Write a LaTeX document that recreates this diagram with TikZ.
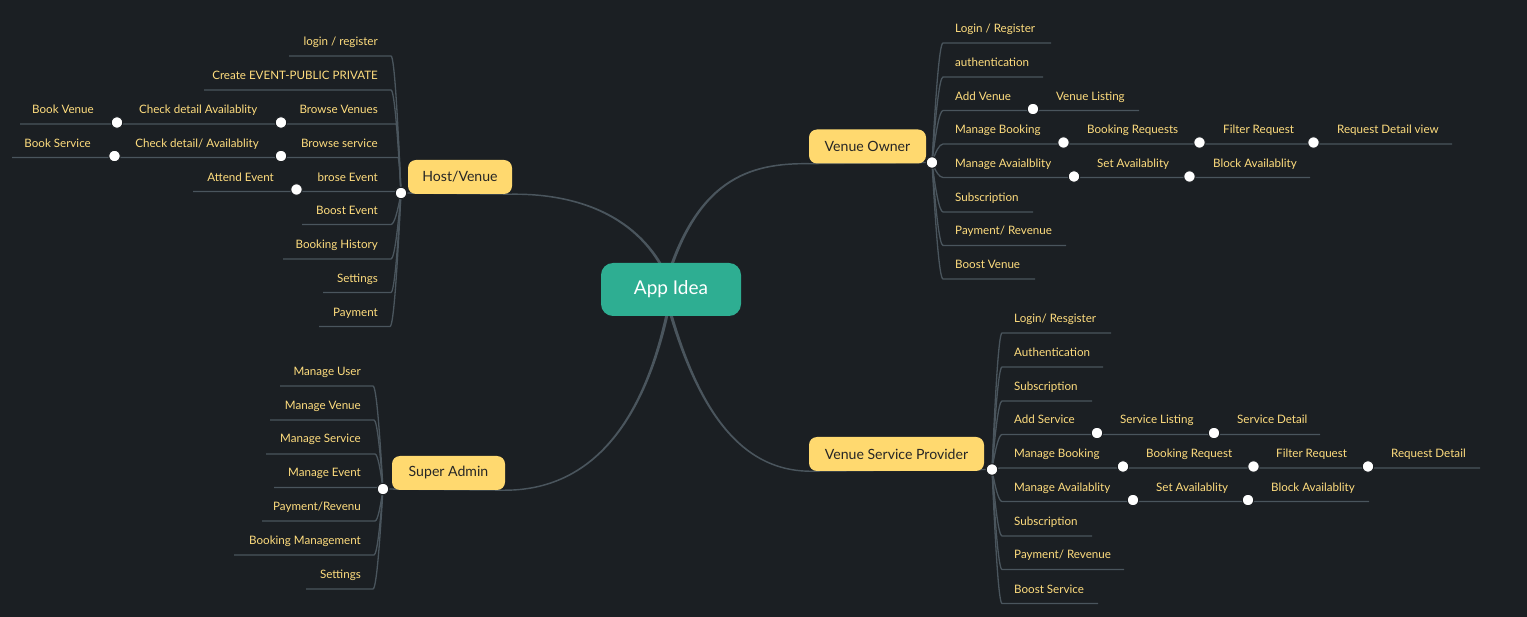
\documentclass[tikz,border=0pt]{standalone}
\usepackage{fontspec}
\setmainfont{Lato}
\usetikzlibrary{backgrounds,calc}
\definecolor{bgc}{HTML}{1B1F23}
\definecolor{edge}{HTML}{4A555D}
\definecolor{leaf}{HTML}{FFDD7E}
\definecolor{yel}{HTML}{FFD96F}
\definecolor{teal1}{HTML}{2EAE92}
\tikzset{
  lbl/.style={text=leaf,inner sep=0pt,yshift=-1.5pt,font=\fontsize{11.6}{13}\selectfont,text height=1.55ex,text depth=.45ex},
  lw/.style={lbl,anchor=west},
  le/.style={lbl,anchor=east},
  knob/.style={circle,fill=white,draw=bgc,line width=1pt,minimum size=11.5pt,inner sep=0pt},
  hubdot/.style={knob},
  topic/.style={fill=yel,rounded corners=8pt,text=black!85,inner sep=0pt,font=\fontsize{14.1}{16}\selectfont},
  rootbox/.style={fill=teal1,rounded corners=12pt,text=white,inner sep=0pt,minimum width=140pt,minimum height=53pt,font=\fontsize{19}{21}\selectfont},
  branchline/.style={draw=edge,line width=1.3pt},
  mainline/.style={draw=edge,line width=1.3pt},
  mainfill/.style={fill=edge},
}
% hub, name, elbow x, y, end x
\newcommand\brn[5]{%
  \coordinate (#2-e) at (#3,#4);
  \coordinate (#2-x) at (#5,#4);
  \begin{scope}[on background layer]
  \draw[branchline] let \p1=(#1),\p2=(#2-e) in
    (#1) .. controls ({\x1+0.3*(\x2-\x1)},{\y1+0.5*(\y2-\y1)}) and ({\x2+0.35*(\x1-\x2)},\y2) .. (#2-e) -- (#2-x);
  \end{scope}}
% tapered main curve: from, c1, c2, to, sx, sy
\newcommand\mcurve[6]{%
  \fill[mainfill] ($(#1)+(0,{#6*.7})$)
    .. controls ($(#2)+(0,{#6*.8})$) and ($(#3)+({#5*1.0},{#6*1.0})$) .. ($(#4)+({#5*1.7},0)$)
    -- ($(#4)+({-#5*1.7},0)$)
    .. controls ($(#3)+({-#5*1.0},{-#6*1.0})$) and ($(#2)+(0,{-#6*.8})$) .. ($(#1)+(0,{-#6*.7})$) -- cycle;}
\begin{document}
\begin{tikzpicture}[x=1pt,y=-1pt]
\useasboundingbox (0,0) rectangle (1527,617);
\begin{scope}[on background layer]
\fill[bgc] (0,0) rectangle (1527,617);
\end{scope}
% boxes
\node[rootbox] (root) at (671,289.5) {\raisebox{-1.5pt}{App Idea}};
\node[topic,minimum width=104pt,minimum height=34pt] (hv) at (460,177) {\raisebox{-.5pt}{Host/Venue}};
\node[topic,minimum width=117pt,minimum height=34pt] (vo) at (867.5,146.5) {\raisebox{-.5pt}{Venue Owner}};
\node[topic,minimum width=113pt,minimum height=34pt] (sa) at (448.5,473) {\raisebox{-.5pt}{Super Admin}};
\node[topic,minimum width=175pt,minimum height=34pt] (vsp) at (896.5,454) {\raisebox{-.5pt}{Venue Service Provider}};
% hubs
\node[hubdot] (hhv) at (401,193) {};
\node[hubdot] (hvo) at (932,162.5) {};
\node[hubdot] (hsa) at (383,489) {};
\node[hubdot] (hvsp) at (992,469.5) {};
% endpoints under the root box
\coordinate (rA) at ($(root.center)+(1,0)$);
\coordinate (rB) at ($(root.center)+(-7,0)$);
% main curves
\begin{scope}[on background layer]
\draw[mainline] (hhv) -- (hv.south east);
\draw[mainline] (hvo) -- (vo.south west);
\draw[mainline] (hsa) -- (sa.south east);
\draw[mainline] (hvsp) -- (vsp.south west);
\mcurve{hv.south east}{590,193.5}{650,225}{rA}{1}{-1}
\mcurve{vo.south west}{750,163}{695,178}{rB}{-1}{-1}
\mcurve{sa.south east}{590,490}{648,425}{rA}{1}{1}
\mcurve{vsp.south west}{740,470}{695,410}{rB}{-1}{1}
\end{scope}
% Host/Venue
\brn{hhv}{h1}{391}{56}{289}
\brn{hhv}{h2}{391}{90}{204}
\brn{hhv}{h3}{396}{124}{20}
\brn{hhv}{h4}{398}{157.5}{12}
\brn{hhv}{h5}{399}{191.5}{193}
\brn{hhv}{h6}{391}{224.5}{302}
\brn{hhv}{h7}{391}{259}{283}
\brn{hhv}{h8}{391}{292.5}{323}
\brn{hhv}{h9}{390}{326.5}{319}
\node[le] (th1) at (378,41.5) {login / register};
\node[le] (th2) at (378,75) {Create EVENT-PUBLIC PRIVATE};
\node[le] (th3) at (378,109) {Browse Venues};
\node[le] (th4) at (378,143) {Browse service};
\node[le] (th5) at (378,177) {brose Event};
\node[le] (th6) at (378,210.5) {Boost Event};
\node[le] (th7) at (378,244.5) {Booking History};
\node[le] (th8) at (378,278) {Settings};
\node[le] (th9) at (378,312) {Payment};
\node[le] (th3a) at (257.5,109) {Check detail Availablity};
\node[le] (th3b) at (94,109) {Book Venue};
\node[le] (th4a) at (259,143) {Check detail/ Availablity};
\node[le] (th4b) at (91,143) {Book Service};
\node[le] (th5a) at (274,177) {Attend Event};
\node[knob] (dh3a) at (281,122.5) {};
\node[knob] (dh3b) at (117,122.5) {};
\node[knob] (dh4a) at (281,156) {};
\node[knob] (dh4b) at (114.5,156) {};
\node[knob] (dh5a) at (296.5,189.5) {};
% Venue Owner
\brn{hvo}{o1}{943}{43}{1051}
\brn{hvo}{o2}{943}{77}{1043}
\brn{hvo}{o3}{943}{110.5}{1139}
\brn{hvo}{o4}{943}{144}{1452}
\brn{hvo}{o5}{943}{177.5}{1310}
\brn{hvo}{o6}{943}{212}{1033}
\brn{hvo}{o7}{943}{245.5}{1066}
\brn{hvo}{o8}{943}{279}{1035}
\node[lw] (to1) at (955,28.5) {Login / Register};
\node[lw] (to2) at (955,62) {authentication};
\node[lw] (to3) at (955,96) {Add Venue};
\node[lw] (to4) at (955,129.5) {Manage Booking};
\node[lw] (to5) at (955,163) {Manage Avaialblity};
\node[lw] (to6) at (955,197) {Subscription};
\node[lw] (to7) at (955,230.5) {Payment/ Revenue};
\node[lw] (to8) at (955,264.5) {Boost Venue};
\node[lw] (to3a) at (1056,96) {Venue Listing};
\node[lw] (to4a) at (1087,129.5) {Booking Requests};
\node[lw] (to4b) at (1223,129.5) {Filter Request};
\node[lw] (to4c) at (1337,129.5) {Request Detail view};
\node[lw] (to5a) at (1097,163) {Set Availablity};
\node[lw] (to5b) at (1213,163) {Block Availablity};
\node[knob] (do3a) at (1033,109) {};
\node[knob] (do4a) at (1063.5,142.5) {};
\node[knob] (do4b) at (1199.5,142.5) {};
\node[knob] (do4c) at (1313.5,142.5) {};
\node[knob] (do5a) at (1074,176.5) {};
\node[knob] (do5b) at (1189.5,176.5) {};
% Super Admin
\brn{hsa}{s1}{373}{386}{280}
\brn{hsa}{s2}{374}{420}{270}
\brn{hsa}{s3}{375}{454}{266}
\brn{hsa}{s4}{378}{487.5}{274}
\brn{hsa}{s5}{375}{521}{262}
\brn{hsa}{s6}{374}{555}{234}
\brn{hsa}{s7}{373}{589}{306}
\node[le] (ts1) at (361,371) {Manage User};
\node[le] (ts2) at (361,405) {Manage Venue};
\node[le] (ts3) at (361,438.5) {Manage Service};
\node[le] (ts4) at (361,472.5) {Manage Event};
\node[le] (ts5) at (361,506.5) {Payment/Revenu};
\node[le] (ts6) at (361,540) {Booking Management};
\node[le] (ts7) at (361,574) {Settings};
% Venue Service Provider
\brn{hvsp}{p1}{1002}{333}{1111}
\brn{hvsp}{p2}{1002}{367}{1103}
\brn{hvsp}{p3}{1002}{401}{1092}
\brn{hvsp}{p4}{1002}{434.5}{1320}
\brn{hvsp}{p5}{1002}{468}{1480}
\brn{hvsp}{p6}{1002}{501.5}{1369}
\brn{hvsp}{p7}{1002}{536}{1092}
\brn{hvsp}{p8}{1002}{569.5}{1124}
\brn{hvsp}{p9}{1002}{603.5}{1098}
\node[lw] (tp1) at (1014,318) {Login/ Resgister};
\node[lw] (tp2) at (1014,352) {Authentication};
\node[lw] (tp3) at (1014,386) {Subscription};
\node[lw] (tp4) at (1014,419.5) {Add Service};
\node[lw] (tp5) at (1014,453.5) {Manage Booking};
\node[lw] (tp6) at (1014,487) {Manage Availablity};
\node[lw] (tp7) at (1014,521) {Subscription};
\node[lw] (tp8) at (1014,554.5) {Payment/ Revenue};
\node[lw] (tp9) at (1014,589) {Boost Service};
\node[lw] (tp4a) at (1120,419.5) {Service Listing};
\node[lw] (tp4b) at (1237,419.5) {Service Detail};
\node[lw] (tp5a) at (1146,453.5) {Booking Request};
\node[lw] (tp5b) at (1276,453.5) {Filter Request};
\node[lw] (tp5c) at (1391,453.5) {Request Detail};
\node[lw] (tp6a) at (1156,487) {Set Availablity};
\node[lw] (tp6b) at (1271,487) {Block Availablity};
\node[knob] (dp4a) at (1097,433) {};
\node[knob] (dp4b) at (1214,433) {};
\node[knob] (dp5a) at (1123,466.5) {};
\node[knob] (dp5b) at (1253.5,466.5) {};
\node[knob] (dp5c) at (1368,466.5) {};
\node[knob] (dp6a) at (1133,500) {};
\node[knob] (dp6b) at (1248,500) {};
\end{tikzpicture}
\end{document}
